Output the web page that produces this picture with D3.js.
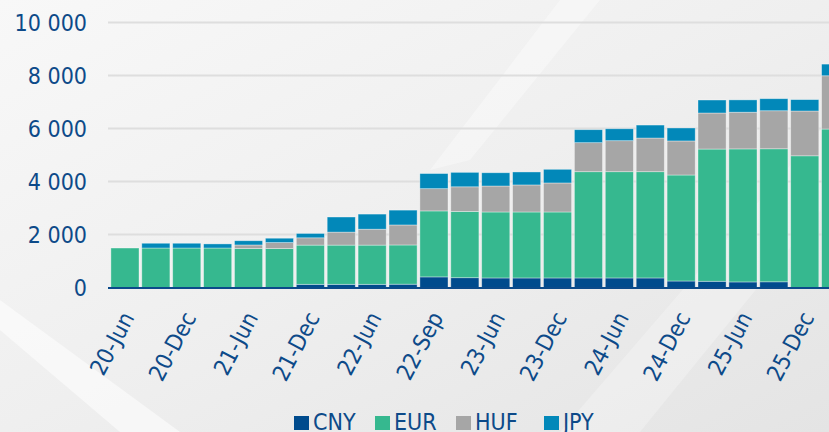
<!DOCTYPE html>
<html>
<head>
<meta charset="utf-8">
<script src="https://cdn.jsdelivr.net/npm/d3@7"></script>
<style>
  html, body { margin: 0; padding: 0; overflow: hidden; }
  svg { display: block; }
</style>
</head>
<body>
<svg id="chart" width="829" height="432"></svg>
<script>
// ---- data ----
const categories = ["20-Jun","20-Sep","20-Dec","21-Mar","21-Jun","21-Sep","21-Dec","22-Mar","22-Jun","22-Jul",
  "22-Sep","23-Mar","23-Jun","23-Sep","23-Dec","24-Mar","24-Jun","24-Sep","24-Dec","25-Mar","25-Jun","25-Sep","25-Dec","26-Mar"];
const tickLabels = ["20-Jun","20-Dec","21-Jun","21-Dec","22-Jun","22-Sep","23-Jun","23-Dec","24-Jun","24-Dec","25-Jun","25-Dec"];
const seriesNames = ["CNY","EUR","HUF","JPY"];
const cny = [0,0,0,0,0,0,120,120,120,125,400,370,360,360,360,360,360,360,245,235,210,215,0,0];
const eur = [1490,1490,1490,1490,1470,1470,1480,1480,1480,1480,2490,2500,2490,2490,2490,4010,4010,4010,4000,4990,5020,5020,4970,5980];
const huf = [0,0,0,0,135,225,275,490,600,755,840,930,980,1020,1095,1095,1170,1270,1285,1360,1385,1435,1690,2010];
const jpy = [0,180,180,155,160,165,165,570,570,560,570,545,500,490,515,490,450,490,490,490,465,455,430,440];
const yTicks = [0,2000,4000,6000,8000,10000];
const colors = ["#004b8d","#36b88f","#a6a6a6","#0288b9"];

const textColor = "#0d4a89";
const fontFam = "'DejaVu Sans Condensed', 'DejaVu Sans', sans-serif";

const svg = d3.select("#chart");

// background
const defs = svg.append("defs");
const bg = defs.append("linearGradient").attr("id","bg").attr("x1","0").attr("y1","0").attr("x2","1").attr("y2","1");
bg.append("stop").attr("offset","0").attr("stop-color","#f8f8f8");
bg.append("stop").attr("offset","0.5").attr("stop-color","#efefef");
bg.append("stop").attr("offset","1").attr("stop-color","#e4e4e4");
svg.append("rect").attr("width",829).attr("height",432).attr("fill","url(#bg)");
svg.append("path").attr("d","M0,330 L0,300 L180,432 L120,432 Z").attr("fill","#ffffff").attr("opacity",0.55);
svg.append("path").attr("d","M430,170 L560,0 L600,0 L470,160 Z").attr("fill","#ffffff").attr("opacity",0.35);
svg.append("path").attr("d","M560,432 L829,120 L829,200 L640,432 Z").attr("fill","#ffffff").attr("opacity",0.25);

const x = d3.scaleBand().domain(categories).range([109.5, 109.5 + 30.9*categories.length]).paddingInner(0.09).paddingOuter(0.045);
const y = d3.scaleLinear().domain([0,10000]).range([287.5, 22.5]);

// gridlines
svg.append("g").selectAll("line").data(yTicks.slice(1)).join("line")
  .attr("x1",108).attr("x2",829)
  .attr("y1",d=>y(d)).attr("y2",d=>y(d))
  .attr("stroke","#dedede").attr("stroke-width",2);

// y axis
const fmt = v => d3.format(",")(v).replace(/,/g," ");
const yAxis = svg.append("g").attr("transform","translate(87,0)")
  .call(d3.axisLeft(y).tickValues(yTicks).tickFormat(fmt).tickSize(0).tickPadding(0));
yAxis.select(".domain").remove();
yAxis.selectAll("text").attr("fill",textColor).attr("font-family",fontFam).attr("font-size","23px").attr("dy","0.36em");

// stacked bars
const table = categories.map((c,i)=>({cat:c, CNY:cny[i], EUR:eur[i], HUF:huf[i], JPY:jpy[i]}));
const stack = d3.stack().keys(seriesNames)(table);
svg.append("g").selectAll("g").data(stack).join("g")
  .attr("fill",(d,i)=>colors[i])
  .selectAll("rect").data(d=>d).join("rect")
  .attr("x",d=>x(d.data.cat))
  .attr("width",x.bandwidth())
  .attr("y",d=>y(d[1]))
  .attr("height",d=>Math.max(0,y(d[0])-y(d[1])))
  .attr("stroke","#ffffff").attr("stroke-opacity",0.45).attr("stroke-width",0.8);

// baseline axis
svg.append("line").attr("x1",108).attr("x2",829).attr("y1",y(0)+0.5).attr("y2",y(0)+0.5)
  .attr("stroke","#0b4a8a").attr("stroke-width",2);

// x axis labels
const xAxis = svg.append("g").attr("transform",`translate(0,${y(0)})`)
  .call(d3.axisBottom(x).tickValues(tickLabels).tickSize(0).tickPadding(0));
xAxis.select(".domain").remove();
xAxis.selectAll("text")
  .attr("fill",textColor).attr("font-family",fontFam).attr("font-size","23px")
  .attr("text-anchor","end")
  .attr("dy","0")
  .attr("transform","translate(10,30) rotate(-62)");

// legend
const legX = [294,375,456,544];
const leg = svg.append("g").selectAll("g").data(seriesNames).join("g")
  .attr("transform",(d,i)=>`translate(${legX[i]},0)`);
leg.append("rect").attr("x",0).attr("y",416).attr("width",15).attr("height",14).attr("fill",(d,i)=>colors[i]);
leg.append("text").attr("x",19).attr("y",430).text(d=>d)
  .attr("fill",textColor).attr("font-family",fontFam).attr("font-size","23px");
</script>
</body>
</html>
